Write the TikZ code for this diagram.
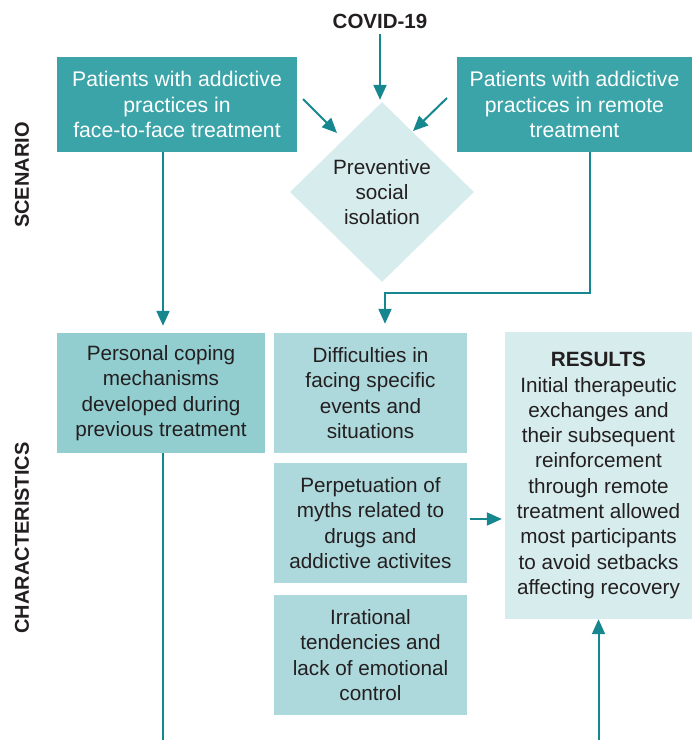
\documentclass[tikz,border=0pt]{standalone}
\usepackage{fontspec}
\setmainfont{Liberation Sans}
\usetikzlibrary{shapes.geometric,arrows.meta,calc}
\definecolor{tealbox}{HTML}{3BA4A8}
\definecolor{arrowc}{HTML}{16878F}
\definecolor{midc}{HTML}{92CDD0}
\definecolor{lightc}{HTML}{AED9DC}
\definecolor{palec}{HTML}{D7ECED}
\definecolor{textc}{HTML}{231F20}
\begin{document}
\begin{tikzpicture}[x=1pt,y=-1pt,
  txt/.style={font=\fontsize{20.7}{25.3}\selectfont},
  darkbox/.style={rectangle, fill=tealbox, text=white, inner sep=0pt, align=center, font=\fontsize{21.2}{25.3}\selectfont},
  lightbox/.style={rectangle, inner sep=0pt, align=center, text=textc, txt},
  arr/.style={draw=arrowc, line width=2pt, -{Triangle[length=15pt,width=13pt]}},
  ln/.style={draw=arrowc, line width=2pt},
  side/.style={font=\bfseries\fontsize{20}{24}\selectfont, rotate=90, text=textc}
]
\useasboundingbox (0,0) rectangle (692,740);

% labels
\node[font=\bfseries\fontsize{20.5}{24}\selectfont, text=textc] (covid) at (380,21) {COVID-19};
\node[side] (scen) at (22,175) {SCENARIO};
\node[side] (char) at (22,538) {CHARACTERISTICS};

% top boxes
\node[darkbox, minimum width=240pt, minimum height=95pt] (tl) at (177,104.5)
  {Patients with addictive\\practices in\\face-to-face treatment};
\node[darkbox, minimum width=235pt, minimum height=95pt] (tr) at (574.5,104.5)
  {Patients with addictive\\practices in remote\\treatment};

% diamond
\node[diamond, fill=palec, minimum width=184pt, minimum height=180pt, inner sep=0pt,
      align=center, text=textc, txt] (dia) at (382,192)
  {Preventive\\social\\isolation};

% characteristics boxes
\node[lightbox, fill=midc, minimum width=208pt, minimum height=120pt] (pc) at (161,393)
  {Personal coping\\mechanisms\\developed during\\previous treatment};
\node[lightbox, fill=lightc, minimum width=193pt, minimum height=120pt] (diff) at (370.5,393)
  {Difficulties in\\facing specific\\events and\\situations};
\node[lightbox, fill=lightc, minimum width=193pt, minimum height=120pt] (perp) at (370.5,523)
  {Perpetuation of\\myths related to\\drugs and\\addictive activites};
\node[lightbox, fill=lightc, minimum width=193pt, minimum height=120pt] (irr) at (370.5,655)
  {Irrational\\tendencies and\\lack of emotional\\control};
\node[lightbox, fill=palec, minimum width=187pt, minimum height=287pt] (res) at (598.5,475.5)
  {\textbf{RESULTS}\\Initial therapeutic\\exchanges and\\their subsequent\\reinforcement\\through remote\\treatment allowed\\most participants\\to avoid setbacks\\affecting recovery};

% helper coordinates
\coordinate (lx) at (163,0);
\coordinate (rx) at (590,0);
\coordinate (rj) at (385,293);
\coordinate (bot) at (0,740);
\coordinate (a1s) at (303,99);
\coordinate (a1e) at (337,133);
\coordinate (a2s) at (447,98);
\coordinate (a2e) at (413,131);

% connectors
\draw[arr, shorten <=2pt, shorten >=2pt] (covid.south) -- (covid.south |- dia.north);
\draw[arr] (a1s) -- (a1e);
\draw[arr] (a2s) -- (a2e);
\draw[arr, shorten >=7pt] (tl.south -| lx) -- (pc.north -| lx);
\draw[arr, shorten >=9pt] (tr.south -| rx) |- (rj) -- (rj |- diff.north);
\draw[ln] (pc.south -| lx) -- (bot -| lx);
\draw[arr, shorten <=3pt, shorten >=3pt] ([yshift=4pt]perp.east) -- ([yshift=4pt]perp.east -| res.west);
\draw[arr] (res.south |- bot) -- (res.south);
\end{tikzpicture}
\end{document}
